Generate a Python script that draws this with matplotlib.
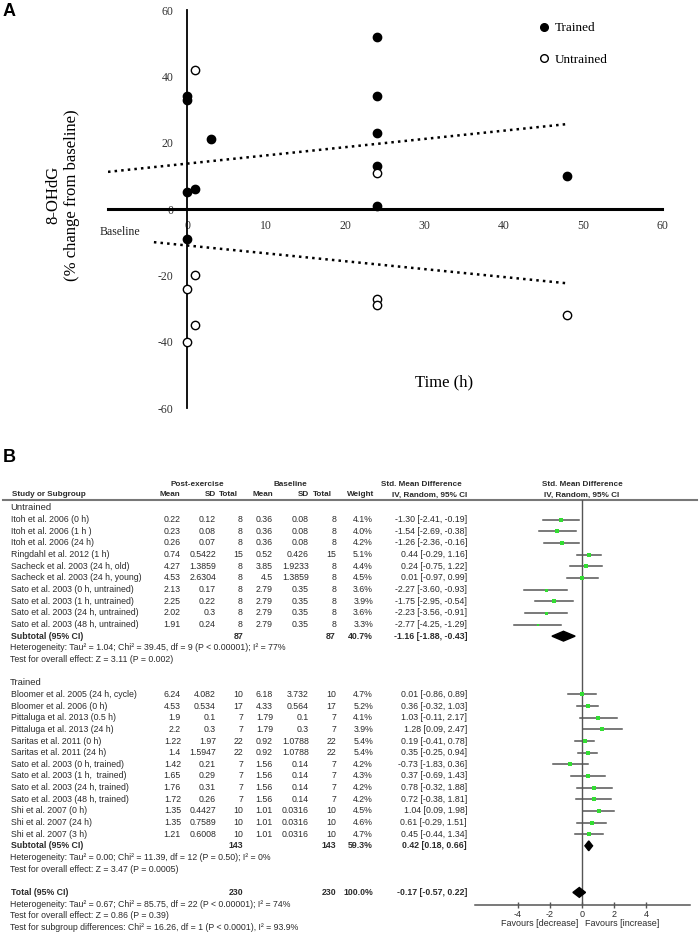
import matplotlib.pyplot as plt
from matplotlib.lines import Line2D

plt.rcParams['axes.unicode_minus'] = False

W, H = 699, 938
SANS = 'Liberation Sans'
SERIF = 'Liberation Serif'
TXT = '#2b2b2b'

# ---- panel A: 8-OHdG % change from baseline vs time
trained_time = [24, 24, 24, 24, 24, 48, 0, 0, 3, 1, 0, 0]
trained_change = [52, 34, 23, 13, 1, 10, 34, 33, 21, 6, 5, -9]
untrained_time = [1, 24, 1, 0, 24, 24, 48, 1, 0]
untrained_change = [42, 11, -20, -24, -27, -29, -32, -35, -40]
trend_time_trained = [-10, 48]
trend_trained = [11.2, 25.6]
trend_time_untrained = [-4.2, 48]
trend_untrained = [-10.0, -22.4]
x_ticks = [0, 10, 20, 30, 40, 50, 60]
y_ticks = [-60, -40, -20, 0, 20, 40, 60]

# ---- panel B: forest plot table
n_untrained = 10
study = [
    'Itoh et al. 2006 (0 h)', 'Itoh et al. 2006 (1 h )', 'Itoh et al. 2006 (24 h)',
    'Ringdahl et al. 2012 (1 h)', 'Sacheck et al. 2003 (24 h, old)',
    'Sacheck et al. 2003 (24 h, young)', 'Sato et al. 2003 (0 h, untrained)',
    'Sato et al. 2003 (1 h, untrained)', 'Sato et al. 2003 (24 h, untrained)',
    'Sato et al. 2003 (48 h, untrained)',
    'Bloomer et al. 2005 (24 h, cycle)', 'Bloomer et al. 2006 (0 h)',
    'Pittaluga et al. 2013 (0.5 h)', 'Pittaluga et al. 2013 (24 h)',
    'Saritas et al. 2011 (0 h)', 'Saritas et al. 2011 (24 h)',
    'Sato et al. 2003 (0 h, trained)', 'Sato et al. 2003 (1 h,  trained)',
    'Sato et al. 2003 (24 h, trained)', 'Sato et al. 2003 (48 h, trained)',
    'Shi et al. 2007 (0 h)', 'Shi et al. 2007 (24 h)', 'Shi et al. 2007 (3 h)',
]
post_mean = [0.22, 0.23, 0.26, 0.74, 4.27, 4.53, 2.13, 2.25, 2.02, 1.91,
             6.24, 4.53, 1.9, 2.2, 1.22, 1.4, 1.42, 1.65, 1.76, 1.72, 1.35, 1.35, 1.21]
post_sd = [0.12, 0.08, 0.07, 0.5422, 1.3859, 2.6304, 0.17, 0.22, 0.3, 0.24,
           4.082, 0.534, 0.1, 0.3, 1.97, 1.5947, 0.21, 0.29, 0.31, 0.26, 0.4427, 0.7589, 0.6008]
post_n = [8, 8, 8, 15, 8, 8, 8, 8, 8, 8, 10, 17, 7, 7, 22, 22, 7, 7, 7, 7, 10, 10, 10]
base_mean = [0.36, 0.36, 0.36, 0.52, 3.85, 4.5, 2.79, 2.79, 2.79, 2.79,
             6.18, 4.33, 1.79, 1.79, 0.92, 0.92, 1.56, 1.56, 1.56, 1.56, 1.01, 1.01, 1.01]
base_sd = [0.08, 0.08, 0.08, 0.426, 1.9233, 1.3859, 0.35, 0.35, 0.35, 0.35,
           3.732, 0.564, 0.1, 0.3, 1.0788, 1.0788, 0.14, 0.14, 0.14, 0.14, 0.0316, 0.0316, 0.0316]
base_n = [8, 8, 8, 15, 8, 8, 8, 8, 8, 8, 10, 17, 7, 7, 22, 22, 7, 7, 7, 7, 10, 10, 10]
weight = [4.1, 4.0, 4.2, 5.1, 4.4, 4.5, 3.6, 3.9, 3.6, 3.3,
          4.7, 5.2, 4.1, 3.9, 5.4, 5.4, 4.2, 4.3, 4.2, 4.2, 4.5, 4.6, 4.7]
smd = [-1.30, -1.54, -1.26, 0.44, 0.24, 0.01, -2.27, -1.75, -2.23, -2.77,
       0.01, 0.36, 1.03, 1.28, 0.19, 0.35, -0.73, 0.37, 0.78, 0.72, 1.04, 0.61, 0.45]
ci_low = [-2.41, -2.69, -2.36, -0.29, -0.75, -0.97, -3.60, -2.95, -3.56, -4.25,
          -0.86, -0.32, -0.11, 0.09, -0.41, -0.25, -1.83, -0.69, -0.32, -0.38, 0.09, -0.29, -0.44]
ci_high = [-0.19, -0.38, -0.16, 1.16, 1.22, 0.99, -0.93, -0.54, -0.91, -1.29,
           0.89, 1.03, 2.17, 2.47, 0.78, 0.94, 0.36, 1.43, 1.88, 1.81, 1.98, 1.51, 1.34]

subgroups = ['Untrained', 'Trained']
sub_n = [87, 143]
sub_weight = [40.7, 59.3]
sub_smd = [-1.16, 0.42]
sub_low = [-1.88, 0.18]
sub_high = [-0.43, 0.66]
sub_het = ['Heterogeneity: Tau\u00b2 = 1.04; Chi\u00b2 = 39.45, df = 9 (P < 0.00001); I\u00b2 = 77%',
           'Heterogeneity: Tau\u00b2 = 0.00; Chi\u00b2 = 11.39, df = 12 (P = 0.50); I\u00b2 = 0%']
sub_test = ['Test for overall effect: Z = 3.11 (P = 0.002)',
            'Test for overall effect: Z = 3.47 (P = 0.0005)']
total_n = 230
total_weight = 100.0
total_smd = -0.17
total_low = -0.57
total_high = 0.22
total_notes = ['Heterogeneity: Tau\u00b2 = 0.67; Chi\u00b2 = 85.75, df = 22 (P < 0.00001); I\u00b2 = 74%',
               'Test for overall effect: Z = 0.86 (P = 0.39)',
               'Test for subgroup differences: Chi\u00b2 = 16.26, df = 1 (P < 0.0001), I\u00b2 = 93.9%']
forest_ticks = [-4, -2, 0, 2, 4]


fig = plt.figure(figsize=(W / 100, H / 100), dpi=100)

def box(left, top, right, bottom):
    return [left / W, 1 - bottom / H, (right - left) / W, (bottom - top) / H]

# overlay in pixel coordinates for the table text
ov = fig.add_axes([0, 0, 1, 1])
ov.set_xlim(0, W)
ov.set_ylim(H, 0)
ov.axis('off')

ov.text(3, 12, 'A', fontsize=13, fontweight='bold', family=SANS, va='center')
ov.text(3, 458, 'B', fontsize=13, fontweight='bold', family=SANS, va='center')

# ---------------- panel A
ax = fig.add_axes(box(108, 10, 662, 408))
ax.set_xlim(-10, 60)
ax.set_ylim(-60, 60)
for s in ['top', 'right']:
    ax.spines[s].set_visible(False)
ax.spines['left'].set_position(('data', 0))
ax.spines['bottom'].set_position(('data', 0))
ax.spines['left'].set_linewidth(1.3)
ax.spines['bottom'].set_linewidth(2.2)
ax.set_xticks(x_ticks)
ax.set_yticks(y_ticks)
ax.tick_params(axis='both', length=0, labelsize=8.5, labelcolor='#333333')
ax.tick_params(axis='x', pad=8)
ax.tick_params(axis='y', pad=10)
for lab in ax.get_xticklabels() + ax.get_yticklabels():
    lab.set_family(SERIF)

ax.plot(trend_time_trained, trend_trained, ls=':', lw=1.8, color='black')
ax.plot(trend_time_untrained, trend_untrained, ls=':', lw=1.8, color='black')
ax.plot(trained_time, trained_change, 'o', ms=6, color='black', zorder=4, clip_on=False)
ax.plot(untrained_time, untrained_change, 'o', ms=6, mfc='white', mec='black', mew=1.0,
        zorder=4, clip_on=False)

ax.set_ylabel('8-OHdG\n(% change from baseline)', fontsize=12, family=SERIF, linespacing=1.25)
ax.yaxis.set_label_coords((80 - 108) / 554, (408 - 195) / 398)
ax.set_xlabel('Time (h)', fontsize=12, family=SERIF)
ax.xaxis.set_label_coords((444 - 108) / 554, (408 - 374) / 398)
ax.text(-0.016, (408 - 232) / 398, 'Baseline', transform=ax.transAxes, fontsize=8.5,
        family=SERIF, ha='left', va='center', color='#222222')

handles = [Line2D([], [], ls='none', marker='o', ms=5.5, color='black'),
           Line2D([], [], ls='none', marker='o', ms=5.5, mfc='white', mec='black')]
ax.legend(handles, ['Trained', 'Untrained'], loc='upper left',
          bbox_to_anchor=((539 - 108) / 554, (408 - 22) / 398), frameon=False,
          prop={'family': SERIF, 'size': 9.5}, handlelength=0.8, handletextpad=0.4,
          labelspacing=1.45, borderpad=0, borderaxespad=0)

# ---------------- panel B table
def ry(i):
    return 508 + 11.65 * i

fs = 6.3
def t(x, y, s, ha='right', bold=False, size=fs):
    ov.text(x, y, s, ha=ha, va='center', fontsize=size, family=SANS, color=TXT,
            fontweight='bold' if bold else 'normal')

cols = [181, 216, 243, 273, 309, 336, 373, 467]

hs = 5.9
t(197, 484, 'Post-exercise', ha='center', bold=True, size=hs)
t(290, 484, 'Baseline', ha='center', bold=True, size=hs)
t(421, 484, 'Std. Mean Difference', ha='center', bold=True, size=hs)
t(582, 484, 'Std. Mean Difference', ha='center', bold=True, size=hs)
t(12, 495, 'Study or Subgroup', ha='left', bold=True, size=hs)
for x, s in zip([180, 216, 238, 273, 309, 332, 374, 467],
                ['Mean', 'SD', 'Total', 'Mean', 'SD', 'Total', 'Weight', 'IV, Random, 95% CI']):
    t(x, 495, s, bold=True, size=hs)
t(582, 495, 'IV, Random, 95% CI', ha='center', bold=True, size=hs)
ov.plot([3, 697], [500, 500], color='#777777', lw=1.5)

fx = fig.add_axes(box(475, 500, 690, 905))
fx.set_xlim(-6.69, 6.75)
fx.set_ylim(34.08, -0.69)
fx.patch.set_visible(False)
for s in ['top', 'right', 'left']:
    fx.spines[s].set_visible(False)
fx.spines['bottom'].set_color('#555555')
fx.spines['bottom'].set_linewidth(1.1)
fx.set_yticks([])
fx.set_xticks(forest_ticks)
fx.tick_params(axis='x', direction='inout', length=5, width=1.0, color='#555555',
               labelsize=6.5, labelcolor=TXT, pad=1)
for lab in fx.get_xticklabels():
    lab.set_family(SANS)
fx.axvline(0, color='#555555', lw=1.0, zorder=1)

def diamond(row, c, lo, hi):
    fx.fill([lo, c, hi, c], [row, row - 0.42, row, row + 0.42], color='black', zorder=3)

row = 0
idx = 0
for g, name in enumerate(subgroups):
    t(10, ry(row), name, ha='left', size=6.8)
    n = n_untrained if g == 0 else len(study) - n_untrained
    for k in range(n):
        r = row + 1 + k
        y = ry(r)
        t(11, y, study[idx], ha='left')
        vals = [str(post_mean[idx]), str(post_sd[idx]), str(post_n[idx]),
                str(base_mean[idx]), str(base_sd[idx]), str(base_n[idx]),
                f'{weight[idx]:.1f}%',
                f'{smd[idx]:.2f} [{ci_low[idx]:.2f}, {ci_high[idx]:.2f}]']
        for x, s in zip(cols, vals):
            t(x, y, s)
        fx.plot([ci_low[idx], ci_high[idx]], [r, r], color='#555555', lw=1.1, zorder=2)
        fx.plot(smd[idx], r, 's', color='#33dd33', ms=0.6 * weight[idx], mew=0, zorder=3)
        idx += 1
    r = row + n + 1
    y = ry(r)
    t(11, y, 'Subtotal (95% CI)', ha='left', bold=True)
    t(cols[2], y, str(sub_n[g]), bold=True)
    t(cols[5], y, str(sub_n[g]), bold=True)
    t(cols[6], y, f'{sub_weight[g]:.1f}%', bold=True)
    t(cols[7], y, f'{sub_smd[g]:.2f} [{sub_low[g]:.2f}, {sub_high[g]:.2f}]', bold=True)
    diamond(r, sub_smd[g], sub_low[g], sub_high[g])
    t(10, ry(r + 1), sub_het[g], ha='left')
    t(10, ry(r + 2), sub_test[g], ha='left')
    row = r + 4

y = ry(row)
t(11, y, 'Total (95% CI)', ha='left', bold=True)
t(cols[2], y, str(total_n), bold=True)
t(cols[5], y, str(total_n), bold=True)
t(cols[6], y, f'{total_weight:.1f}%', bold=True)
t(cols[7], y, f'{total_smd:.2f} [{total_low:.2f}, {total_high:.2f}]', bold=True)
diamond(row, total_smd, total_low, total_high)
for k, note in enumerate(total_notes):
    t(10, ry(row + 1 + k), note, ha='left')

t(578, 924, 'Favours [decrease]', ha='right', size=6.5)
t(585, 924, 'Favours [increase]', ha='left', size=6.5)

fig.savefig('out.png', dpi=100)
